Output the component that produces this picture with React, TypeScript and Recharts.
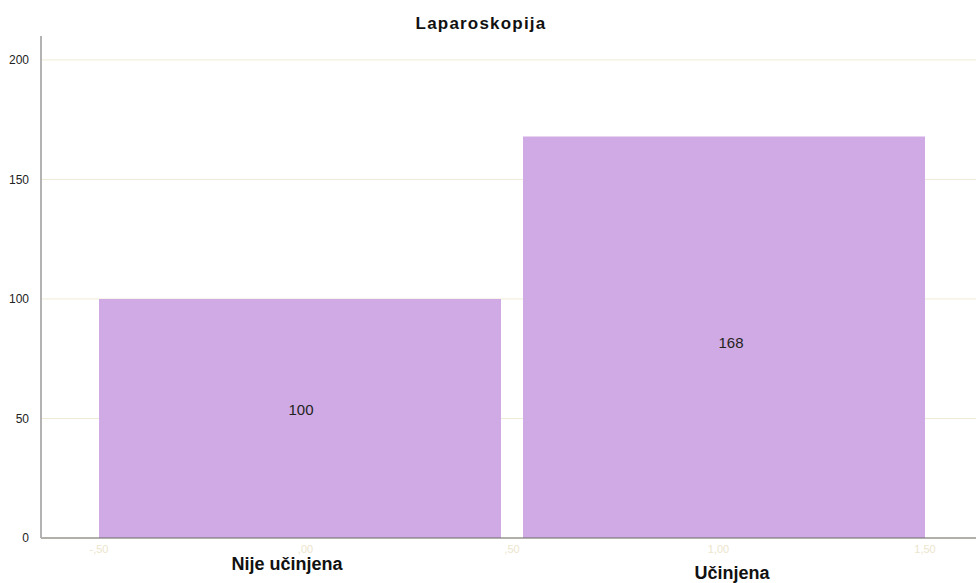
import React from "react";
import { BarChart, Bar, XAxis, YAxis, CartesianGrid, LabelList } from "recharts";

const categories = ["Nije učinjena", "Učinjena"];
const codes = [0, 1];
const counts = [100, 168];
const yTicks = [0, 50, 100, 150, 200];
const codeTicks = [-0.5, 0, 0.5, 1, 1.5];

const data = categories.map((name, i) => ({ name, code: codes[i], count: counts[i] }));

const FONT = '"Liberation Sans", Arial, sans-serif';
const BAR_COLOR = "#d0aae4";
const PAD = { left: 47, right: 40 };

// SPSS style: comma decimal, no leading zero
const fmtCode = (v: number) => {
  const s = Math.abs(v).toFixed(2).replace(".", ",").replace(/^0/, "");
  return (v < 0 ? "-" : "") + s;
};

const catOffset = [
  { dx: -13, dy: 10 },
  { dx: 8, dy: 19 },
];

const labelOffset = [
  { dx: 1, dy: -9 },
  { dx: 7, dy: 5 },
];

const CategoryTick = (props: any) => {
  const { x, y, payload, index } = props;
  const off = catOffset[index] || { dx: 0, dy: 12 };
  return (
    <text
      x={x + off.dx}
      y={y + off.dy}
      textAnchor="middle"
      fontFamily={FONT}
      fontSize={18}
      fontWeight="bold"
      fill="#111"
    >
      {payload.value}
    </text>
  );
};

const BarValue = (props: any) => {
  const { x, y, width, height, value, index } = props;
  const off = labelOffset[index] || { dx: 0, dy: 0 };
  return (
    <text
      x={x + width / 2 + off.dx}
      y={y + height / 2 + off.dy}
      textAnchor="middle"
      dominantBaseline="central"
      fontFamily={FONT}
      fontSize={15}
      fill="#222"
    >
      {value}
    </text>
  );
};

export default function App() {
  return (
    <div style={{ position: "absolute", left: 0, top: 0, width: 976, height: 583, background: "#fff" }}>
      <div
        style={{
          position: "absolute",
          left: 0,
          top: 14,
          width: 962,
          textAlign: "center",
          fontFamily: FONT,
          fontSize: 17,
          letterSpacing: 1.2,
          fontWeight: "bold",
          color: "#111",
        }}
      >
        Laparoskopija
      </div>
      <BarChart
        width={976}
        height={583}
        data={data}
        margin={{ top: 36, right: 0, left: 0, bottom: 0 }}
        barCategoryGap={11}
      >
        <CartesianGrid vertical={false} horizontalValues={yTicks} stroke="#efead6" />
        <XAxis
          xAxisId="code"
          type="number"
          dataKey="code"
          domain={[-0.5266, 1.5266]}
          padding={PAD}
          allowDataOverflow
          ticks={codeTicks}
          tickFormatter={fmtCode}
          tickLine={false}
          axisLine={{ stroke: "#6b6b6b" }}
          height={14}
          tick={{ fill: "#ece5cc", fontSize: 11, fontFamily: FONT }}
          tickMargin={1}
        />
        <XAxis
          xAxisId="name"
          dataKey="name"
          padding={PAD}
          axisLine={false}
          tickLine={false}
          height={31}
          tick={<CategoryTick />}
          interval={0}
        />
        <YAxis
          domain={[0, 210]}
          ticks={yTicks}
          width={41}
          tickLine={false}
          axisLine={{ stroke: "#b3b3b3", strokeWidth: 2 }}
          tick={{ fill: "#222", fontSize: 12, fontFamily: FONT }}
          tickMargin={6}
        />
        <Bar dataKey="count" xAxisId="name" fill={BAR_COLOR} isAnimationActive={false}>
          <LabelList dataKey="count" content={<BarValue />} />
        </Bar>
      </BarChart>
    </div>
  );
}
